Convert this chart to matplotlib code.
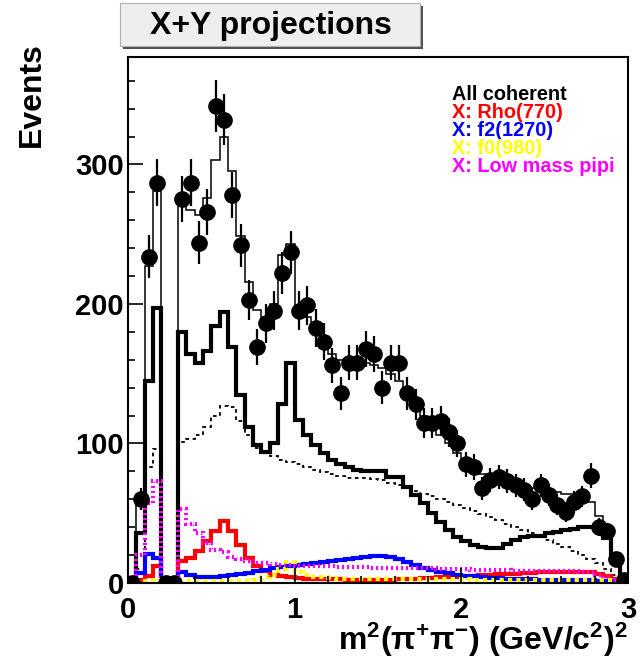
import numpy as np
import matplotlib
matplotlib.use('Agg')
import matplotlib.pyplot as plt
from matplotlib.patches import Rectangle
from matplotlib.ticker import MultipleLocator

plt.rcParams['font.family'] = ['Liberation Sans', 'DejaVu Sans']
plt.rcParams['font.weight'] = 'bold'
plt.rcParams['mathtext.fontset'] = 'custom'
plt.rcParams['mathtext.rm'] = 'Liberation Sans:bold'
plt.rcParams['mathtext.it'] = 'Liberation Sans:bold'
plt.rcParams['mathtext.bf'] = 'Liberation Sans:bold'

# m^2(pi+pi-) binning: 60 bins from 0 to 3 (GeV/c^2)^2
edges = np.linspace(0.0, 3.0, 61)

# measured events per bin
events = [0, 60, 234, 287, 0, 0, 275, 287, 244, 266,
          342, 332, 278, 242, 203, 169, 186, 195, 222, 237,
          195, 199, 183, 173, 156, 136, 158, 158, 168, 164,
          140, 158, 158, 136, 128, 115, 115, 116, 108, 100,
          85, 83, 68, 74, 76, 73, 70, 67, 60, 70,
          63, 56, 51, 58, 62, 77, 40, 37, 17, 2]

# total fit
total_fit = [3, 58, 227, 281, 0, 0, 270, 267, 264, 276,
             303, 320, 295, 249, 216, 196, 187, 200, 235, 243,
             196, 191, 181, 170, 164, 160, 160, 160, 158, 156,
             154, 150, 145, 137, 128, 120, 113, 106, 100, 93,
             87, 82, 78, 76, 75, 74, 72, 70, 68, 66,
             66, 65, 64, 64, 63, 58, 48, 36, 18, 3]

# all coherent contributions
coherent = [1, 36, 145, 197, 0, 0, 180, 164, 158, 166,
            184, 194, 169, 135, 112, 99, 94, 100, 128, 158,
            117, 106, 99, 93, 88, 85, 83, 81, 80, 80,
            80, 76, 76, 69, 63, 57, 50, 44, 38, 33,
            30, 27, 25.5, 25, 25, 28, 31, 33, 34, 34,
            35.5, 36.5, 38, 39, 40, 40, 39, 32, 20, 2]

# incoherent part
incoherent = [0, 10, 83, 96, 0, 0, 101, 103, 106, 112,
              120, 127, 126, 116, 106, 97, 93, 91, 88, 87,
              85, 83, 81, 79.5, 78, 76.5, 75.5, 75, 75, 74.5,
              73.5, 72, 70.5, 68.5, 66, 64, 62, 60, 58, 56,
              54, 51.5, 49.5, 47.5, 45, 42.5, 40, 38, 35.5, 33,
              30.5, 28, 25.5, 23, 20, 17, 14, 10, 6, 2]

rho770 = [0, 2, 5, 12, 0, 0, 16, 18, 23, 30,
          37, 44.6, 37, 27, 18, 12, 8.6, 6, 5, 4,
          3.5, 3.2, 3, 2.8, 2.7, 2.6, 2.5, 2.5, 2.5, 2.5,
          2.5, 2.5, 2.7, 3, 3.2, 3.5, 3.8, 4, 4.3, 4.6,
          5, 5.3, 5.6, 5.9, 6.2, 6.5, 6.8, 7.1, 7.4, 7.6,
          7.8, 8, 8.1, 8.2, 8.1, 7.8, 6.8, 5, 3, 1]

f2_1270 = [0, 7, 21, 18, 0, 0, 8, 6, 4.5, 4.5,
           4.5, 4.8, 5.5, 6.5, 7.5, 8.5, 9.5, 10.5, 11.5, 12.3,
           13, 13.8, 14.5, 15.3, 16, 16.7, 17.3, 18, 18.5, 19,
           19, 18.5, 17, 15, 13, 11, 9.5, 8, 7, 6,
           5.3, 4.7, 4.2, 3.8, 3.5, 3.2, 3, 2.8, 2.6, 2.5,
           2.4, 2.3, 2.2, 2.1, 2, 2, 1.5, 1.2, 0.8, 0.5]

f0_980 = [0, 1, 1.5, 2, 0, 0, 1.5, 1.5, 1.5, 1.5,
          1.5, 1.5, 1.5, 1.5, 1.5, 2.5, 4, 6, 10, 15,
          8, 5.5, 4.5, 4, 3.5, 3, 3, 3, 3, 3,
          3, 3, 3, 3, 3, 3, 3, 3, 3, 3,
          3, 2.5, 2.5, 2.5, 2.5, 2.5, 2.5, 2.5, 2.5, 2.5,
          2.5, 2.5, 2.5, 2.5, 2.5, 2.5, 2, 2, 2, 1]

low_mass = [0, 20, 57, 73, 0, 0, 53, 42, 36, 29,
            24, 22, 18.7, 17, 15.8, 14.6, 14, 13.5, 13, 12.7,
            12.5, 12.3, 12.2, 12, 12, 11.8, 11.6, 11.4, 11.2, 11,
            11, 10.9, 10.8, 10.7, 10.6, 10.5, 10.4, 10.3, 10.2, 10,
            9.8, 9.6, 9.4, 9.2, 9.1, 9, 8.9, 8.8, 8.7, 8.6,
            8.6, 8.5, 8.4, 8.3, 8.2, 8, 6, 4, 2.5, 1]

legend_labels = ['All coherent', 'X: Rho(770)', 'X: f2(1270)',
                 'X: f0(980)', 'X: Low mass pipi']
legend_colors = ['black', '#ff0000', '#0000ff', '#ffff00', '#ff00ff']

events = np.array(events, dtype=float)
centers = 0.5 * (edges[:-1] + edges[1:])

W, H = 642, 672
fig = plt.figure(figsize=(W / 100, H / 100), dpi=100)
ax = fig.add_axes([128 / W, 89 / H, 500 / W, 526 / H])

# component histograms
ax.stairs(total_fit, edges, color='black', lw=1.1)
ax.stairs(coherent, edges, color='black', lw=3.0)
ax.stairs(incoherent, edges, color='black', lw=1.3, linestyle=(0, (2, 2)))
ax.stairs(rho770, edges, color='#ff0000', lw=3.0)
ax.stairs(f2_1270, edges, color='#0000ff', lw=3.0)
ax.stairs(low_mass, edges, color='#ff00ff', lw=3.0, linestyle=(0, (0.5, 0.7)))
ax.stairs(f0_980, edges, color='#ffff00', lw=3.0, linestyle=(0, (1, 1)))

# data with poisson errors
ax.errorbar(centers, events, yerr=np.sqrt(events), fmt='o', ms=11,
            color='black', ecolor='black', elinewidth=1.6, capsize=0,
            zorder=5)

ax.set_xlim(0, 3)
ax.set_ylim(0, 377)
ax.xaxis.set_major_locator(MultipleLocator(1))
ax.xaxis.set_minor_locator(MultipleLocator(0.2))
ax.yaxis.set_major_locator(MultipleLocator(100))
ax.yaxis.set_minor_locator(MultipleLocator(20))
ax.tick_params(which='both', direction='in', top=False, right=False,
               width=1.2, labelsize=21)
ax.tick_params(which='major', length=11)
ax.tick_params(which='minor', length=5)
ax.tick_params(axis='x', pad=9)
ax.tick_params(axis='y', pad=3)
for lab in ax.get_xticklabels() + ax.get_yticklabels():
    lab.set_fontweight('bold')
for sp in ax.spines.values():
    sp.set_linewidth(1.5)

# legend entries as coloured text
for k, (txt, col) in enumerate(zip(legend_labels, legend_colors)):
    fig.text(452 / W, 1 - (94 + 18.2 * k) / H, txt, color=col,
             fontsize=14.3, fontweight='bold', ha='left', va='center')

fig.text(32 / W, 1 - 95 / H, 'Events', rotation=90, fontsize=23,
         fontweight='bold', ha='center', va='center')
fig.text(628 / W, 1 - 640 / H,
         r'$\mathregular{m^{2}(\pi^{+}\pi^{-})\ (GeV/c^{2})^{2}}$',
         fontsize=23, ha='right', va='center')

# title box with drop shadow
fig.patches.append(Rectangle((123 / W, 1 - 49 / H), 300 / W, 43 / H,
                             transform=fig.transFigure, facecolor='#505050',
                             edgecolor='none'))
fig.patches.append(Rectangle((120 / W, 1 - 46 / H), 300 / W, 43 / H,
                             transform=fig.transFigure, facecolor='#eeeeee',
                             edgecolor='#b0b0b0', lw=0.8))
fig.text(271 / W, 1 - 26 / H, 'X+Y projections', fontsize=23,
         fontweight='bold', ha='center', va='center')

fig.savefig('out.png', dpi=100)
